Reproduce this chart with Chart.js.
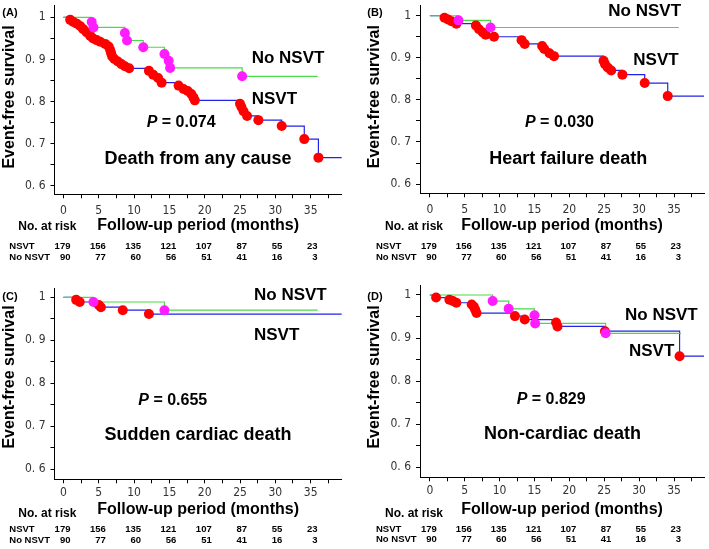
<!DOCTYPE html>
<html lang="en">
<head>
<meta charset="UTF-8">
<title>Event-free survival: NSVT vs No NSVT</title>
<script src="https://cdn.jsdelivr.net/npm/chart.js"></script>
<style>
  body { margin: 0; background: #fff; }
  .wrap { position: relative; width: 709px; height: 549px; }
  canvas { position: absolute; }
</style>
</head>
<body>
<div class="wrap">
  <canvas id="panelA" width="350" height="270" style="left:0;top:0"></canvas>
  <canvas id="panelB" width="359" height="270" style="left:350px;top:0"></canvas>
  <canvas id="panelC" width="350" height="279" style="left:0;top:270px"></canvas>
  <canvas id="panelD" width="359" height="279" style="left:350px;top:270px"></canvas>
</div>
<script>
// event times (months) and survival after each event
const nsvtMonthsA = [0.95, 1.4, 1.9, 2.4, 2.8, 3.3, 3.8, 4.2, 4.7, 5.2, 5.9, 6.4, 6.6, 6.75, 6.9, 7.2, 7.7, 8.2, 8.7, 9.3,
  12.1, 12.7, 13.4, 13.9, 16.3, 17.0, 17.6, 18.1, 18.4, 18.6, 25.0, 25.2, 25.5, 26.0, 27.6, 30.9, 34.1, 36.1];
const nsvtSurvA = [0.994, 0.989, 0.985, 0.979, 0.972, 0.964, 0.956, 0.950, 0.946, 0.942, 0.937, 0.931, 0.923, 0.915, 0.907, 0.901, 0.895, 0.889, 0.884, 0.879,
  0.873, 0.864, 0.856, 0.845, 0.838, 0.830, 0.825, 0.818, 0.810, 0.803, 0.795, 0.787, 0.777, 0.766, 0.756, 0.742, 0.711, 0.667];
const noNsvtMonthsA = [4.0, 4.25, 8.7, 9.0, 11.3, 14.3, 14.9, 15.1, 25.3];
const noNsvtSurvA = [0.989, 0.976, 0.963, 0.945, 0.929, 0.913, 0.897, 0.880, 0.860];

const nsvtMonthsB = [2.1, 2.6, 3.1, 3.8, 6.6, 7.05, 7.6, 8.0, 9.2, 13.15, 13.6, 16.1, 16.4, 17.15, 17.8, 24.9, 25.1, 25.5, 26.0, 27.6, 30.8, 34.1];
const nsvtSurvB = [0.995, 0.991, 0.987, 0.981, 0.977, 0.968, 0.960, 0.955, 0.950, 0.942, 0.933, 0.928, 0.921, 0.911, 0.904, 0.893, 0.885, 0.877, 0.870, 0.860, 0.840, 0.809];
const noNsvtMonthsB = [4.1, 8.7];
const noNsvtSurvB = [0.989, 0.972];

const nsvtMonthsC = [1.8, 2.3, 5.0, 5.3, 8.4, 12.1];
const nsvtSurvC = [0.994, 0.989, 0.982, 0.977, 0.970, 0.961];
const noNsvtMonthsC = [4.25, 14.3];
const noNsvtSurvC = [0.989, 0.970];

const nsvtMonthsD = [0.9, 2.8, 3.3, 3.8, 6.0, 6.3, 6.5, 6.7, 12.2, 13.6, 18.1, 18.3, 25.1, 35.8];
const nsvtSurvD = [0.994, 0.989, 0.986, 0.982, 0.978, 0.973, 0.966, 0.958, 0.951, 0.943, 0.936, 0.927, 0.916, 0.858];
const noNsvtMonthsD = [9.0, 11.3, 15.0, 15.1, 25.2];
const noNsvtSurvD = [0.986, 0.968, 0.953, 0.934, 0.911];

// last follow-up month of each curve [NSVT, No NSVT]
const lastMonthA = [40, 36];
const lastMonthB = [40, 35.7];
const lastMonthC = [40, 36];
const lastMonthD = [40, 36];

// number at risk table
const riskMonths = [0, 5, 10, 15, 20, 25, 30, 35];
const riskNsvt = [179, 156, 135, 121, 107, 87, 55, 23];
const riskNoNsvt = [90, 77, 60, 56, 51, 41, 16, 3];

const xTicks = [0, 2.5, 5, 7.5, 10, 12.5, 15, 17.5, 20, 22.5, 25, 27.5, 30, 32.5, 35, 37.5];
const yTicks = [0.6, 0.65, 0.7, 0.75, 0.8, 0.85, 0.9, 0.95, 1];

const BOLD = '"Liberation Sans", Arial, sans-serif';
const TICK_FONT = { family: '"DejaVu Sans Condensed", "DejaVu Sans", sans-serif', size: 12 };
const BLUE = '#2323e6';
const GREEN = '#48dc48';
const RED = '#ff0000';
const MAGENTA = '#ff1cff';

function curve(months, surv, last) {
  const pts = [{ x: 0, y: 1 }];
  months.forEach((m, i) => pts.push({ x: m, y: surv[i] }));
  pts.push({ x: last, y: surv[surv.length - 1] });
  return pts;
}

function dots(months, surv) {
  return months.map((m, i) => ({ x: m, y: surv[i] }));
}

function yLabel(v) {
  const r = Math.round(v * 100);
  if (r % 10 !== 0) return '';
  if (r === 100) return '1';
  return '0. ' + (r / 10);
}

const panels = [
  { id: 'panelA', tag: '(A)', W: 350, H: 270, area: { left: 54.5, right: 341.7, top: 0, bottom: 194.3 },
    xr: [-1.27, 39.4], yr: [0.580, 1.0293], tickPad: 5,
    nsvt: [nsvtMonthsA, nsvtSurvA, lastMonthA[0]], noNsvt: [noNsvtMonthsA, noNsvtSurvA, lastMonthA[1]],
    p: '0.074', outcome: 'Death from any cause',
    tagPos: [10, 12.7], yTitle: [10, 97], noLbl: [251.7, 58.3], nsvtLbl: [251.7, 99.3],
    pPos: [146.7, 122.7], outPos: [198, 159.3], xTitleY: 225.7, atRisk: [18.3, 226.7], rows: [9.3, 246.7, 257.7] },
  { id: 'panelB', tag: '(B)', W: 359, H: 270, area: { left: 70, right: 359, top: 0, bottom: 193.3 },
    xr: [-1.41, 39.3], yr: [0.578, 1.0255], tickPad: 5,
    nsvt: [nsvtMonthsB, nsvtSurvB, lastMonthB[0]], noNsvt: [noNsvtMonthsB, noNsvtSurvB, lastMonthB[1]],
    p: '0.030', outcome: 'Heart failure death',
    tagPos: [25, 12.7], yTitle: [25, 96.7], noLbl: [258.3, 11.7], nsvtLbl: [283.3, 60],
    pPos: [175, 122.7], outPos: [218.3, 159.3], xTitleY: 225.7, atRisk: [35, 226.7], rows: [26, 246.7, 257.7] },
  { id: 'panelC', tag: '(C)', W: 350, H: 279, area: { left: 54.5, right: 341.7, top: 18, bottom: 209.3 },
    xr: [-1.27, 39.4], yr: [0.5767, 1.0216], tickPad: 2,
    nsvt: [nsvtMonthsC, nsvtSurvC, lastMonthC[0]], noNsvt: [noNsvtMonthsC, noNsvtSurvC, lastMonthC[1]],
    p: '0.655', outcome: 'Sudden cardiac death',
    tagPos: [10, 27.3], yTitle: [10, 107], noLbl: [254, 25], nsvtLbl: [254, 65],
    pPos: [138.3, 131], outPos: [198, 165], xTitleY: 239.3, atRisk: [18.3, 243.3], rows: [9.3, 259.3, 270] },
  { id: 'panelD', tag: '(D)', W: 359, H: 279, area: { left: 70, right: 359, top: 15, bottom: 207.3 },
    xr: [-1.41, 39.3], yr: [0.5768, 1.0232], tickPad: 2,
    nsvt: [nsvtMonthsD, nsvtSurvD, lastMonthD[0]], noNsvt: [noNsvtMonthsD, noNsvtSurvD, lastMonthD[1]],
    p: '0.829', outcome: 'Non-cardiac death',
    tagPos: [25, 26.7], yTitle: [25, 107], noLbl: [275, 45], nsvtLbl: [279, 81.7],
    pPos: [166.7, 130], outPos: [212.5, 164], xTitleY: 239.3, atRisk: [35, 244], rows: [26, 259.3, 269.3] }
];

function textPlugin(p) {
  return {
    id: 'panelText',
    afterDraw(chart) {
      const ctx = chart.ctx;
      const xs = chart.scales.x;
      ctx.save();
      ctx.fillStyle = '#000';
      ctx.textBaseline = 'middle';

      ctx.textAlign = 'center';
      ctx.font = 'bold 11px ' + BOLD;
      ctx.fillText(p.tag, p.tagPos[0], p.tagPos[1]);

      ctx.save();
      ctx.translate(p.yTitle[0], p.yTitle[1]);
      ctx.rotate(-Math.PI / 2);
      ctx.font = 'bold 16px ' + BOLD;
      ctx.fillText('Event-free survival', 0, 0);
      ctx.restore();

      ctx.textAlign = 'left';
      ctx.font = 'bold 17px ' + BOLD;
      ctx.fillText('No NSVT', p.noLbl[0], p.noLbl[1]);
      ctx.fillText('NSVT', p.nsvtLbl[0], p.nsvtLbl[1]);

      ctx.font = 'italic bold 16px ' + BOLD;
      ctx.fillText('P', p.pPos[0], p.pPos[1]);
      const pw = ctx.measureText('P').width;
      ctx.font = 'bold 16px ' + BOLD;
      ctx.fillText(' = ' + p.p, p.pPos[0] + pw, p.pPos[1]);

      ctx.textAlign = 'center';
      ctx.font = 'bold 18px ' + BOLD;
      ctx.fillText(p.outcome, p.outPos[0], p.outPos[1]);

      ctx.textAlign = 'left';
      ctx.font = 'bold 12px ' + BOLD;
      ctx.fillText('No. at risk', p.atRisk[0], p.atRisk[1]);

      ctx.font = 'bold 9.5px ' + BOLD;
      ctx.fillText('NSVT', p.rows[0], p.rows[1]);
      ctx.fillText('No NSVT', p.rows[0], p.rows[2]);
      ctx.textAlign = 'right';
      riskMonths.forEach((m, i) => {
        const px = xs.getPixelForValue(m) + 7;
        ctx.fillText(String(riskNsvt[i]), px, p.rows[1]);
        ctx.fillText(String(riskNoNsvt[i]), px, p.rows[2]);
      });
      ctx.restore();
    }
  };
}

const axisGrid = { drawOnChartArea: false, drawTicks: true, tickLength: 4, color: '#000', lineWidth: 1 };
const axisBorder = { display: true, color: '#000', width: 1 };

panels.forEach(p => {
  new Chart(document.getElementById(p.id), {
    type: 'line',
    data: {
      datasets: [
        { type: 'scatter', data: dots(p.noNsvt[0], p.noNsvt[1]), backgroundColor: MAGENTA,
          pointRadius: 5, borderWidth: 0, order: 1 },
        { type: 'scatter', data: dots(p.nsvt[0], p.nsvt[1]), backgroundColor: RED,
          pointRadius: 5, borderWidth: 0, order: 2 },
        { data: curve(p.noNsvt[0], p.noNsvt[1], p.noNsvt[2]), borderColor: GREEN, borderWidth: 1.2,
          stepped: 'before', pointRadius: 0, fill: false, order: 3 },
        { data: curve(p.nsvt[0], p.nsvt[1], p.nsvt[2]), borderColor: BLUE, borderWidth: 1.2,
          stepped: 'before', pointRadius: 0, fill: false, order: 4 }
      ]
    },
    options: {
      responsive: false,
      animation: false,
      devicePixelRatio: 1,
      layout: { padding: { left: 0, top: p.area.top, right: p.W - p.area.right, bottom: 0 } },
      plugins: { legend: { display: false }, tooltip: { enabled: false } },
      scales: {
        x: {
          type: 'linear', min: p.xr[0], max: p.xr[1],
          afterBuildTicks: s => { s.ticks = xTicks.map(v => ({ value: v })); },
          afterFit: s => { s.height = p.H - p.area.bottom; s.paddingLeft = 0; s.paddingRight = 0; },
          ticks: { autoSkip: false, maxRotation: 0, padding: p.tickPad, font: TICK_FONT, color: '#333',
            callback: v => (v % 5 === 0 ? String(v) : '') },
          grid: axisGrid,
          border: axisBorder,
          title: { display: true, text: 'Follow-up period (months)', color: '#000',
            font: { family: BOLD, size: 16, weight: 'bold' },
            padding: { top: 0, bottom: p.H - p.xTitleY - 9.6 } }
        },
        y: {
          type: 'linear', min: p.yr[0], max: p.yr[1],
          afterBuildTicks: s => { s.ticks = yTicks.map(v => ({ value: v })); },
          afterFit: s => { s.width = p.area.left; s.paddingTop = 0; s.paddingBottom = 0; },
          ticks: { autoSkip: false, padding: 5, font: TICK_FONT, color: '#333', callback: v => yLabel(v) },
          grid: axisGrid,
          border: axisBorder
        }
      }
    },
    plugins: [textPlugin(p)]
  });
});
</script>
</body>
</html>
